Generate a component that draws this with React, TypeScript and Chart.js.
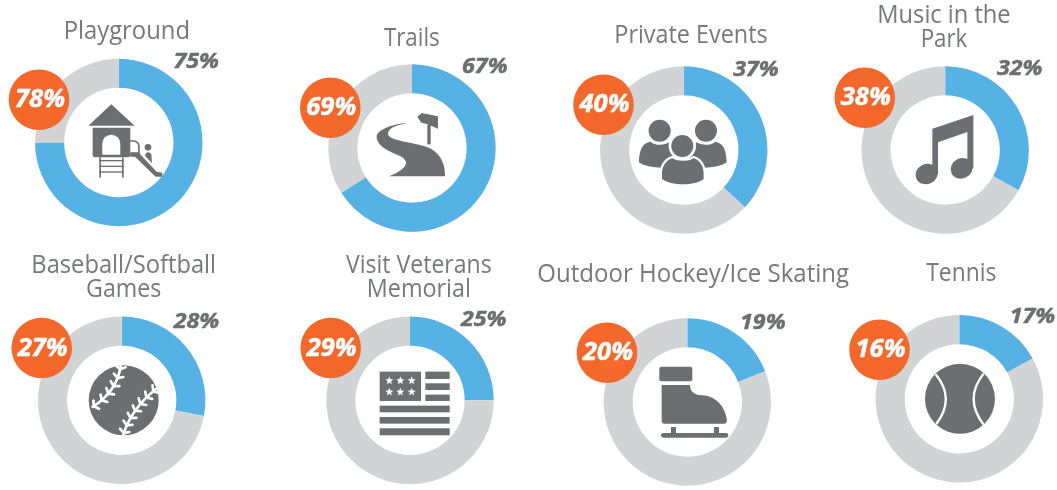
import React, { useEffect, useRef } from "react";
import { Chart, registerables } from "chart.js";

Chart.register(...registerables);

// ---- data ----
const categories: string[][] = [
  ["Playground"],
  ["Trails"],
  ["Private Events"],
  ["Music in the", "Park"],
  ["Baseball/Softball", "Games"],
  ["Visit Veterans", "Memorial"],
  ["Outdoor Hockey/Ice Skating"],
  ["Tennis"],
];
// printed next to each ring
const currentLabels = [75, 67, 37, 32, 28, 25, 19, 17];
// share of the ring that is actually painted blue
const ringShares = [75, 66, 37, 33, 28, 25, 19, 17];
const comparisonValues = [78, 69, 40, 38, 27, 29, 20, 16];

// ---- layout (page pixels) ----
type Place = {
  cx: number; cy: number;
  bx: number; by: number;
  lx: number; ly: number;
  tx: number; ty: number[]; tw: number[];
  icon: string; zx: number; zy: number;
};
const places: Place[] = [
  { cx: 118.8, cy: 142.5, bx: 39, by: 99.7, lx: 196.2, ly: 68.3, tx: 126.8, ty: [39.3], tw: [126.3], icon: "playground", zx: 356.5, zy: 427.5 },
  { cx: 412, cy: 148, bx: 330.3, by: 107.7, lx: 484.8, ly: 73, tx: 411.8, ty: [45.7], tw: [55.7], icon: "trails", zx: 444, zy: 444 },
  { cx: 683.8, cy: 150, bx: 603.5, by: 104.8, lx: 756, ly: 76, tx: 691, ty: [43.3], tw: [153.3], icon: "people", zx: 467.5, zy: 450 },
  { cx: 945.2, cy: 150, bx: 864.8, by: 97.8, lx: 1019.7, ly: 75.3, tx: 944, ty: [22.7, 46.7], tw: [133.3, 46.7], icon: "music", zx: 456.5, zy: 450 },
  { cx: 121.7, cy: 400.3, bx: 41.7, by: 348, lx: 196.5, ly: 327.7, tx: 123.7, ty: [272.7, 296.7], tw: [184.7, 75.3], icon: "baseball", zx: 365, zy: 466 },
  { cx: 410, cy: 400.3, bx: 330.7, by: 348, lx: 483.7, ly: 326, tx: 418.8, ty: [272.7, 296.7], tw: [145.7, 104], icon: "flag", zx: 438, zy: 466 },
  { cx: 687.3, cy: 402, bx: 607, by: 352.7, lx: 762.8, ly: 329, tx: 693.2, ty: [281.7], tw: [311.7], icon: "skate", zx: 478, zy: 471 },
  { cx: 959.3, cy: 398.8, bx: 879.5, by: 349.7, lx: 1032.5, ly: 323.3, tx: 961.3, ty: [280.7], tw: [70], icon: "tennis", zx: 499, zy: 461.5 },
];

const RADIUS = 83.7;
const PANEL_W = 340;
const PANEL_H = 245;
const BLUE = "#56b1e5";
const GREY = "#d1d3d4";
const ORANGE = "#f4692b";
const INK = "#6d6e71";
const TITLE = "#77787b";
const FAMILY = '"Open Sans", "Noto Sans", sans-serif';

function fitText(c: CanvasRenderingContext2D, text: string, x: number, y: number, w: number, weight = 0) {
  const natural = c.measureText(text).width;
  c.save();
  c.translate(x, y);
  c.scale(w / natural, 1);
  c.fillText(text, 0, 0);
  if (weight > 0) {
    c.strokeStyle = c.fillStyle as string;
    c.lineWidth = weight;
    c.lineJoin = "round";
    c.strokeText(text, 0, 0);
  }
  c.restore();
}

// ---- icons, drawn in 3x-coordinates ----
function roundRect(c: CanvasRenderingContext2D, x0: number, y0: number, x1: number, y1: number, r: number) {
  c.beginPath();
  c.roundRect(x0, y0, x1 - x0, y1 - y0, r);
  c.fill();
}
function star(c: CanvasRenderingContext2D, x: number, y: number, r: number) {
  c.beginPath();
  for (let i = 0; i < 10; i++) {
    const a = -Math.PI / 2 + (i * Math.PI) / 5;
    const q = i % 2 ? r * 0.42 : r;
    c.lineTo(x + q * Math.cos(a), y + q * Math.sin(a));
  }
  c.closePath();
  c.fill();
}
function stitches(c: CanvasRenderingContext2D, p0: number[], p1: number[], p2: number[], n: number) {
  c.lineCap = "round";
  c.lineWidth = 8;
  c.beginPath();
  c.moveTo(p0[0], p0[1]);
  c.quadraticCurveTo(p1[0], p1[1], p2[0], p2[1]);
  c.stroke();
  for (let i = 0; i <= n; i++) {
    const t = 0.04 + (0.92 * i) / n;
    const u = 1 - t;
    const x = u * u * p0[0] + 2 * u * t * p1[0] + t * t * p2[0];
    const y = u * u * p0[1] + 2 * u * t * p1[1] + t * t * p2[1];
    const dx = 2 * u * (p1[0] - p0[0]) + 2 * t * (p2[0] - p1[0]);
    const dy = 2 * u * (p1[1] - p0[1]) + 2 * t * (p2[1] - p1[1]);
    const len = Math.hypot(dx, dy);
    const tx = dx / len, ty = dy / len;
    c.beginPath();
    c.moveTo(x + ty * 15 - tx * 6, y - tx * 15 - ty * 6);
    c.lineTo(x + tx * 3, y + ty * 3);
    c.lineTo(x - ty * 15 - tx * 6, y + tx * 15 - ty * 6);
    c.stroke();
  }
}
const icons: Record<string, (c: CanvasRenderingContext2D) => void> = {
  playground(c) {
    c.beginPath();
    c.moveTo(334, 313); c.lineTo(404, 377); c.lineTo(265, 377); c.closePath(); c.fill();
    c.beginPath();
    c.roundRect(278, 383, 113, 89, [0, 0, 7, 7]);
    c.fill();
    c.fillStyle = "#fff";
    c.beginPath();
    c.moveTo(307, 464); c.lineTo(307, 431); c.arc(334, 431, 27, Math.PI, 0); c.lineTo(361, 464); c.closePath(); c.fill();
    c.fillStyle = INK;
    c.fillRect(298, 472, 5, 61);
    c.fillRect(366, 472, 5, 61);
    [480, 497, 514].forEach((y) => c.fillRect(298, y, 73, 4));
    c.lineWidth = 5;
    c.beginPath();
    c.moveTo(391, 423); c.lineTo(402, 423); c.quadraticCurveTo(417, 425, 417, 442); c.lineTo(417, 462); c.stroke();
    c.beginPath();
    c.moveTo(391, 457); c.lineTo(415, 457); c.lineTo(470, 515); c.lineTo(487, 518); c.lineTo(487, 530);
    c.lineTo(467, 530); c.lineTo(405, 470); c.lineTo(391, 470); c.closePath(); c.fill();
    c.beginPath(); c.arc(444, 442, 10, 0, Math.PI * 2); c.fill();
    c.beginPath();
    c.moveTo(436, 462); c.quadraticCurveTo(444, 452, 454, 462); c.lineTo(456, 490); c.lineTo(436, 468); c.closePath(); c.fill();
  },
  trails(c) {
    c.beginPath();
    c.moveTo(438, 368);
    c.bezierCurveTo(395, 370, 343, 385, 338, 408);
    c.bezierCurveTo(337, 440, 378, 455, 408, 468);
    c.bezierCurveTo(428, 478, 432, 492, 417, 505);
    c.bezierCurveTo(407, 515, 392, 522, 375, 529);
    c.lineTo(543, 529);
    c.bezierCurveTo(545, 490, 527, 450, 477, 437);
    c.bezierCurveTo(447, 430, 412, 425, 385, 415);
    c.bezierCurveTo(365, 405, 370, 390, 390, 380);
    c.bezierCurveTo(405, 373, 425, 370, 438, 368);
    c.closePath(); c.fill();
    c.fillRect(490, 375, 10, 58);
    c.beginPath();
    c.moveTo(460, 350); c.lineTo(473, 339); c.lineTo(522, 349); c.lineTo(522, 386);
    c.lineTo(488, 372); c.lineTo(472, 368); c.closePath(); c.fill();
  },
  people(c) {
    const side = (m: number) => {
      const X = (x: number) => (m ? 929 - x : x);
      c.beginPath(); c.arc(X(395), 392, 33, 0, Math.PI * 2); c.fill();
      c.beginPath();
      c.moveTo(X(333), 487);
      c.bezierCurveTo(X(333), 450, X(344), 428, X(367), 425);
      c.bezierCurveTo(X(379), 437, X(409), 437, X(424), 427);
      c.lineTo(X(449), 470); c.lineTo(X(400), 503);
      c.bezierCurveTo(X(375), 503, X(348), 498, X(333), 487);
      c.closePath(); c.fill();
    };
    side(0); side(1);
    const body = () => {
      c.beginPath();
      c.moveTo(402, 537); c.lineTo(402, 520);
      c.bezierCurveTo(402, 495, 419, 478, 434, 475);
      c.bezierCurveTo(444, 485, 486, 485, 496, 475);
      c.bezierCurveTo(511, 478, 527, 495, 527, 520);
      c.lineTo(527, 537);
      c.bezierCurveTo(502, 558, 430, 558, 402, 537);
      c.closePath();
    };
    c.strokeStyle = "#fff"; c.lineWidth = 14;
    body(); c.stroke();
    c.beginPath(); c.arc(463, 438, 34, 0, Math.PI * 2); c.stroke();
    body(); c.fill();
    c.beginPath(); c.arc(463, 438, 33, 0, Math.PI * 2); c.fill();
  },
  music(c) {
    c.beginPath();
    c.moveTo(418, 386); c.lineTo(541, 345); c.lineTo(541, 505); c.lineTo(523, 505);
    c.lineTo(523, 396); c.lineTo(435, 427); c.lineTo(435, 522); c.lineTo(418, 522);
    c.closePath(); c.fill();
    c.beginPath(); c.ellipse(401, 522, 34, 30, -0.45, 0, Math.PI * 2); c.fill();
    c.beginPath(); c.ellipse(506, 505, 34, 30, -0.45, 0, Math.PI * 2); c.fill();
  },
  baseball(c) {
    c.beginPath(); c.arc(371, 466, 105, 0, Math.PI * 2); c.fill();
    c.strokeStyle = "#fff";
    stitches(c, [362, 364], [350, 440], [278, 486], 5);
    stitches(c, [468, 432], [395, 490], [370, 568], 6);
  },
  flag(c) {
    c.fillRect(347, 380, 124, 88);
    [[380, 402], [415, 435], [449, 468]].forEach(([a, b]) => c.fillRect(484, a, 73, b - a));
    [[482, 502], [516, 536], [550, 571]].forEach(([a, b]) => c.fillRect(347, a, 210, b - a));
    c.fillStyle = "#fff";
    [376, 409, 443].forEach((x) => [407, 441].forEach((y) => star(c, x, y, 13)));
  },
  skate(c) {
    roundRect(c, 394, 365, 493, 409, 6);
    c.beginPath();
    c.moveTo(401, 420); c.lineTo(486, 420);
    c.bezierCurveTo(486, 440, 500, 450, 520, 451);
    c.bezierCurveTo(560, 452, 590, 480, 597, 525);
    c.quadraticCurveTo(597, 536, 587, 536);
    c.lineTo(410, 536);
    c.quadraticCurveTo(401, 536, 401, 528);
    c.closePath(); c.fill();
    c.fillRect(429, 546, 15, 20);
    c.fillRect(558, 546, 15, 20);
    roundRect(c, 399, 564, 601, 578, 7);
  },
  tennis(c) {
    c.beginPath(); c.arc(501, 461.5, 105, 0, Math.PI * 2); c.fill();
    c.strokeStyle = "#fff"; c.lineWidth = 7;
    c.beginPath(); c.moveTo(428, 388); c.quadraticCurveTo(488, 461, 430, 537); c.stroke();
    c.beginPath(); c.moveTo(572, 386); c.quadraticCurveTo(512, 461, 572, 539); c.stroke();
  },
};

function Panel({ index }: { index: number }) {
  const ref = useRef<HTMLCanvasElement>(null);
  const p = places[index];
  const left = Math.round(p.cx - PANEL_W / 2);
  const top = index < 4 ? 0 : 245;

  useEffect(() => {
    if (!ref.current) return;
    const ox = left, oy = top;
    const decor = {
      id: "decor",
      afterDatasetsDraw(chart: Chart) {
        const c = chart.ctx;
        c.save();
        // icon
        const arc: any = chart.getDatasetMeta(0).data[0];
        c.save();
        c.translate(arc.x, arc.y);
        c.scale(1 / 3, 1 / 3);
        c.translate(-p.zx, -p.zy);
        c.fillStyle = INK;
        c.strokeStyle = INK;
        c.lineJoin = "round";
        icons[p.icon](c);
        c.restore();
        // comparison bubble
        c.fillStyle = ORANGE;
        c.beginPath();
        c.arc(p.bx - ox, p.by - oy, 30.3, 0, Math.PI * 2);
        c.fill();
        c.textAlign = "center";
        c.textBaseline = "alphabetic";
        c.font = `italic 700 25px ${FAMILY}`;
        c.fillStyle = "#ffffff";
        fitText(c, `${comparisonValues[index]}%`, p.bx - ox + 1, p.by - oy + 7.5, 50, 0.5);
        // current value
        c.font = `italic 700 22px ${FAMILY}`;
        c.fillStyle = INK;
        fitText(c, `${currentLabels[index]}%`, p.lx - ox, p.ly - oy, 45.5, 0.5);
        // title
        c.font = `400 25px ${FAMILY}`;
        c.fillStyle = TITLE;
        categories[index].forEach((line, i) => {
          fitText(c, line, p.tx - ox, p.ty[i] - oy, p.tw[i]);
        });
        c.restore();
      },
    };
    const cyLocal = p.cy - top;
    const cxLocal = p.cx - left;
    const chart = new Chart(ref.current, {
      type: "doughnut",
      data: {
        labels: [categories[index].join(" "), "Rest"],
        datasets: [
          {
            data: [ringShares[index], 100 - ringShares[index]],
            backgroundColor: [BLUE, GREY],
            borderWidth: 0,
          },
        ],
      },
      options: {
        responsive: false,
        animation: false,
        cutout: "65.3%",
        layout: {
          padding: {
            left: cxLocal - RADIUS,
            right: PANEL_W - cxLocal - RADIUS,
            top: cyLocal - RADIUS,
            bottom: PANEL_H - cyLocal - RADIUS,
          },
        },
        plugins: { legend: { display: false }, tooltip: { enabled: false }, title: { display: false } },
      },
      plugins: [decor],
    });
    return () => chart.destroy();
  }, []);

  return (
    <canvas
      ref={ref}
      width={PANEL_W}
      height={PANEL_H}
      style={{ position: "absolute", left, top, width: PANEL_W, height: PANEL_H }}
    />
  );
}

export default function App() {
  return (
    <div style={{ position: "absolute", left: 0, top: 0, width: 1057, height: 490, overflow: "hidden", background: "#fff" }}>
      {places.map((_, i) => (
        <Panel key={i} index={i} />
      ))}
    </div>
  );
}
